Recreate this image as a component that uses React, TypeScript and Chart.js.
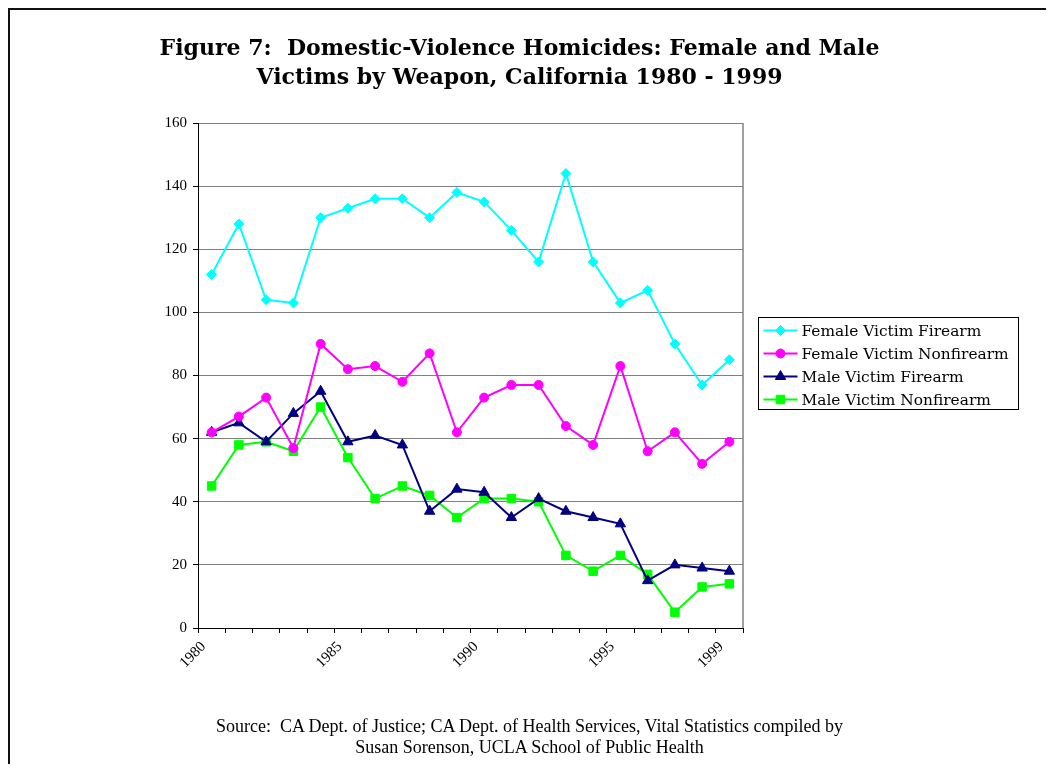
import React, { useEffect, useRef } from 'react';
import { Chart, registerables } from 'chart.js';

Chart.register(...registerables);

// ---- data ----
const years = ['1980','1981','1982','1983','1984','1985','1986','1987','1988','1989','1990','1991','1992','1993','1994','1995','1996','1997','1998','1999'];
const shownYearLabels = ['1980','1985','1990','1995','1999'];
const femaleFirearm = [112,128,104,103,130,133,136,136,130,138,135,126,116,144,116,103,107,90,77,85];
const femaleNonfirearm = [62,67,73,57,90,82,83,78,87,62,73,77,77,64,58,83,56,62,52,59];
const maleFirearm = [62,65,59,68,75,59,61,58,37,44,43,35,41,37,35,33,15,20,19,18];
const maleNonfirearm = [45,58,59,56,70,54,41,45,42,35,41,41,40,23,18,23,17,5,13,14];
const yMin = 0;
const yMax = 160;
const yStep = 20;
const titleLines = ['Figure 7:  Domestic-Violence Homicides: Female and Male', 'Victims by Weapon, California 1980 - 1999'];
const sourceLines = ['Source:  CA Dept. of Justice; CA Dept. of Health Services, Vital Statistics compiled by', 'Susan Sorenson, UCLA School of Public Health'];

const SERIF = '"Liberation Serif", "Times New Roman", serif';
const WIDE_SERIF = '"DejaVu Serif", serif';

function drawMarker(ctx: CanvasRenderingContext2D, style: string, x: number, y: number, r: number, color: string) {
  ctx.save();
  ctx.fillStyle = color;
  ctx.strokeStyle = color;
  ctx.lineWidth = 1;
  ctx.beginPath();
  if (style === 'rectRot') {
    ctx.moveTo(x - r, y); ctx.lineTo(x, y - r); ctx.lineTo(x + r, y); ctx.lineTo(x, y + r); ctx.closePath();
  } else if (style === 'circle') {
    ctx.arc(x, y, r, 0, Math.PI * 2);
  } else if (style === 'triangle') {
    const a = 2 * Math.PI / 3;
    ctx.moveTo(x, y - r);
    ctx.lineTo(x + Math.sin(a) * r, y - Math.cos(a) * r);
    ctx.lineTo(x + Math.sin(2 * a) * r, y - Math.cos(2 * a) * r);
    ctx.closePath();
  } else {
    const s = Math.SQRT1_2 * r;
    ctx.rect(x - s, y - s, 2 * s, 2 * s);
  }
  ctx.fill();
  ctx.stroke();
  ctx.restore();
}

const boxLegend = {
  id: 'boxLegend',
  afterDraw(chart: any) {
    const ctx: CanvasRenderingContext2D = chart.ctx;
    const area = chart.chartArea;
    const x0 = Math.round(area.right + 15) + 0.5;
    const y0 = Math.round(area.top + 194) + 0.5;
    const w = 260;
    const h = 92;
    ctx.save();
    ctx.strokeStyle = '#000';
    ctx.lineWidth = 1;
    ctx.strokeRect(x0, y0, w, h);
    ctx.font = '15.4px ' + WIDE_SERIF;
    ctx.textBaseline = 'middle';
    ctx.textAlign = 'left';
    chart.data.datasets.forEach((ds: any, i: number) => {
      const cy = y0 + 13 + i * 23;
      ctx.strokeStyle = ds.borderColor;
      ctx.lineWidth = 2;
      ctx.beginPath();
      ctx.moveTo(x0 + 5, cy);
      ctx.lineTo(x0 + 39, cy);
      ctx.stroke();
      drawMarker(ctx, ds.pointStyle, x0 + 22, cy, ds.pointRadius, ds.pointBackgroundColor);
      ctx.fillStyle = '#000';
      ctx.fillText(ds.label, x0 + 43, cy + 1);
    });
    ctx.restore();
  },
};

const plotEdge = {
  id: 'plotEdge',
  beforeDatasetsDraw(chart: any) {
    const ctx: CanvasRenderingContext2D = chart.ctx;
    const a = chart.chartArea;
    ctx.save();
    ctx.strokeStyle = '#808080';
    ctx.lineWidth = 1.5;
    ctx.beginPath();
    ctx.moveTo(a.right, a.top);
    ctx.lineTo(a.right, a.bottom);
    ctx.stroke();
    ctx.restore();
  },
};

function makeDataset(label: string, data: number[], color: string, pointStyle: string, radius: number) {
  return {
    label,
    data,
    borderColor: color,
    backgroundColor: color,
    pointBackgroundColor: color,
    pointBorderColor: color,
    pointBorderWidth: 1,
    pointStyle,
    pointRadius: radius,
    borderWidth: 2,
    tension: 0,
    fill: false,
  };
}

export default function App() {
  const ref = useRef<HTMLCanvasElement | null>(null);

  useEffect(() => {
    if (!ref.current) return;
    const chart = new Chart(ref.current, {
      type: 'line',
      data: {
        labels: years,
        datasets: [
          makeDataset('Female Victim Firearm', femaleFirearm, '#00FFFF', 'rectRot', 5),
          makeDataset('Female Victim Nonfirearm', femaleNonfirearm, '#FF00FF', 'circle', 4.5),
          makeDataset('Male Victim Firearm', maleFirearm, '#000080', 'triangle', 6),
          makeDataset('Male Victim Nonfirearm', maleNonfirearm, '#00FF00', 'rect', 6),
        ] as any,
      },
      options: {
        animation: false,
        responsive: false,
        layout: { padding: { left: 140, right: 303, top: 115, bottom: 76 } },
        plugins: {
          legend: { display: false },
          title: { display: false },
          tooltip: { enabled: false },
        },
        scales: {
          x: {
            type: 'category',
            offset: true,
            grid: {
              offset: true,
              drawOnChartArea: false,
              drawTicks: true,
              tickLength: 5,
              tickColor: '#000',
            },
            border: { display: true, color: '#000', width: 1 },
            ticks: {
              autoSkip: false,
              maxRotation: 45,
              minRotation: 45,
              labelOffset: -8,
              padding: 5,
              color: '#000',
              font: { family: SERIF, size: 15 },
              callback: (_v: any, idx: number) => (shownYearLabels.includes(years[idx]) ? years[idx] : ''),
            },
            afterFit: (s: any) => { s.height = 60; },
          },
          y: {
            type: 'linear',
            min: yMin,
            max: yMax,
            grid: {
              color: '#808080',
              lineWidth: 1,
              tickColor: '#000',
              tickLength: 5,
            },
            border: { display: true, color: '#000', width: 1 },
            ticks: {
              stepSize: yStep,
              padding: 6,
              color: '#000',
              font: { family: SERIF, size: 15 },
            },
            afterFit: (s: any) => { s.width = 50; },
          },
        },
      },
      plugins: [plotEdge, boxLegend],
    } as any);
    return () => chart.destroy();
  }, []);

  return (
    <div style={{ position: 'relative', width: 1038, height: 756, overflow: 'hidden', background: '#fff' }}>
      <div style={{ position: 'absolute', left: 0, top: 0, width: 1100, height: 800, borderTop: '2px solid #111', borderLeft: '2px solid #111', boxSizing: 'border-box' }} />
      <canvas ref={ref} width={1038} height={756} style={{ position: 'absolute', left: 0, top: 0, display: 'block' }} />
      <div style={{ position: 'absolute', left: 0, top: 25, width: 1023, textAlign: 'center', fontFamily: WIDE_SERIF, fontWeight: 'bold', fontSize: 22, lineHeight: '29px', color: '#000', whiteSpace: 'pre' }}>
        {titleLines.map((t, i) => <div key={i}>{t}</div>)}
      </div>
      <div style={{ position: 'absolute', left: 10, top: 708, width: 1023, textAlign: 'center', fontFamily: SERIF, fontSize: 18, lineHeight: '21px', color: '#000', whiteSpace: 'pre' }}>
        {sourceLines.map((t, i) => <div key={i}>{t}</div>)}
      </div>
    </div>
  );
}
